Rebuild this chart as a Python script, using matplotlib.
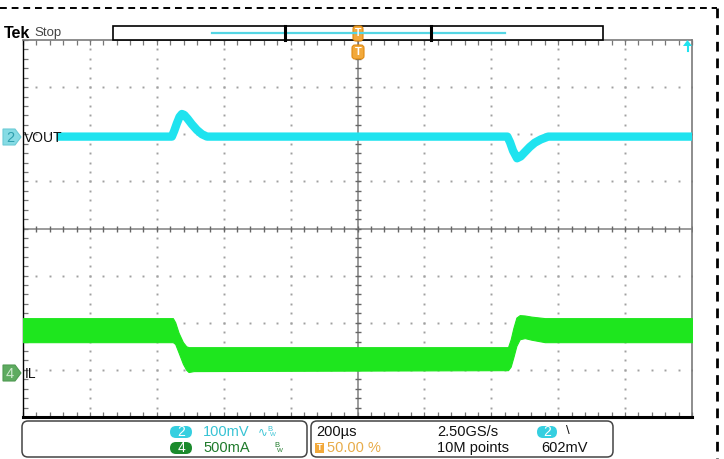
import matplotlib
matplotlib.use('Agg')
import matplotlib.pyplot as plt
from matplotlib.patches import FancyBboxPatch, Rectangle, Polygon
from matplotlib import font_manager
import numpy as np

W, H = 724, 459

# ---------------- data ----------------
time_div_us = 200          # 200 us/div
vout_scale_mv = 100        # CH2 100 mV/div
il_scale_ma = 500          # CH4 500 mA/div
vout_pos_div = 1.95        # CH2 marker position (div above centre)
il_pos_div = -3.07         # CH4 marker position (div below centre)

vout_t = [-900, -555, -548, -540, -532, -525, -518, -508, -495, -480, -465, -450,
          448, 456, 465, 477, 488, 500, 515, 530, 548, 570, 1000]
vout_mv = [0, 0, 12, 28, 42, 48, 46, 38, 26, 14, 5, 0,
           0, -12, -30, -46, -42, -33, -22, -13, -6, 0, 0]

il_t = [-1000, -552, -545, -535, -522, -512, -505, -490,
        450, 458, 466, 475, 485, 500, 520, 560, 1000]
il_hi = [584, 584, 540, 430, 330, 285, 276, 276,
         276, 360, 480, 590, 616, 612, 600, 584, 584]
il_lo = [329, 329, 310, 220, 100, 35, 12, 22,
         32, 70, 170, 290, 360, 372, 355, 329, 329]

ch_labels = ["VOUT", "IL"]
bottom_left = [("2", "100mV"), ("4", "500mA")]
timebase = "200µs"
trig_pos = "50.00 %"
rate = "2.50GS/s"
points = "10M points"
trig_level = "602mV"

# ---------------- style ----------------
names = {f.name for f in font_manager.fontManager.ttflist}
narrow = 'Liberation Sans Narrow' if 'Liberation Sans Narrow' in names else 'Liberation Sans'
FAM = [narrow, 'DejaVu Sans']
plt.rcParams['font.family'] = FAM

CYAN = '#1fe3ef'
GREEN = '#1ee61e'
GRID = '#a0a0a0'

fig = plt.figure(figsize=(W / 100, H / 100), dpi=100)
fig.patch.set_facecolor('white')

ax = fig.add_axes([23 / W, 1 - 417 / H, 669 / W, 377 / H])
ax.set_xlim(-5 * time_div_us, 5 * time_div_us)
ax.set_ylim(-4, 4)
ax.set_xticks([])
ax.set_yticks([])
ax.set_xticks(np.arange(-5 * time_div_us, 5 * time_div_us + 1, time_div_us / 5), minor=True)
ax.set_yticks(np.arange(-4, 4.01, 0.2), minor=True)
ax.tick_params(which='minor', direction='in', length=3.5, width=0.9, color='#777777',
               top=True, right=True, labelbottom=False, labelleft=False)
for s in ['top', 'right']:
    ax.spines[s].set_color('#7a7a7a')
    ax.spines[s].set_linewidth(1.2)
ax.spines['left'].set_color('black')
ax.spines['left'].set_linewidth(1.0)
ax.spines['bottom'].set_color('black')
ax.spines['bottom'].set_linewidth(2.2)

# graticule dots
ys = np.arange(-4, 4.01, 0.2)
xs = np.arange(-5 * time_div_us, 5 * time_div_us + 1, time_div_us / 5)
for k in [-4, -3, -2, -1, 1, 2, 3, 4]:
    ax.plot([k * time_div_us] * len(ys), ys, ls='none', marker='s', ms=1.4,
            mec='none', mfc=GRID, zorder=1)
for k in [-3, -2, -1, 1, 2, 3]:
    ax.plot(xs, [k] * len(xs), ls='none', marker='s', ms=1.4,
            mec='none', mfc=GRID, zorder=1)
# centre crosshair
ax.axhline(0, color='#8a8a8a', lw=1.2, zorder=1)
ax.axvline(0, color='#8a8a8a', lw=1.2, zorder=1)
ax.plot(xs, [0] * len(xs), ls='none', marker='|', ms=5, mew=1, color='#666666', zorder=1)
ax.plot([0] * len(ys), ys, ls='none', marker='_', ms=5, mew=1, color='#666666', zorder=1)

# channel traces on their own scales
axv = ax.twinx()
axv.set_ylim((-4 - vout_pos_div) * vout_scale_mv, (4 - vout_pos_div) * vout_scale_mv)
axv.axis('off')
axv.plot(vout_t, vout_mv, color=CYAN, lw=6.0, solid_joinstyle='round',
         solid_capstyle='butt')

axi = ax.twinx()
axi.set_ylim((-4 - il_pos_div) * il_scale_ma, (4 - il_pos_div) * il_scale_ma)
axi.axis('off')
axi.fill_between(il_t, il_lo, il_hi, color=GREEN, lw=0.8, edgecolor=GREEN)

# ---------------- decorations in pixel space ----------------
ov = fig.add_axes([0, 0, 1, 1])
ov.set_xlim(0, W)
ov.set_ylim(H, 0)
ov.axis('off')

# outer dashed border
ov.plot([0, 717], [8, 8], color='black', lw=1.4, ls=(0, (3.5, 2.5)))
ov.plot([717, 717], [8, H], color='black', lw=2.0, ls=(0, (3.5, 2.5)))

# Tek Stop
ov.text(4, 33, "Tek", fontsize=11.5, fontweight='bold', va='center', ha='left',
        family=['Liberation Sans', 'DejaVu Sans'], color='black')
ov.text(34, 33, "Stop", fontsize=9.5, va='center', ha='left', color='#444444')

# record bar
ov.add_patch(Rectangle((113, 26), 490, 14, fc='white', ec='black', lw=1.2))
ov.plot([212, 505], [32.5, 32.5], color='#55d6e4', lw=1.6)
for xd in (285, 431):
    ov.plot([xd, xd], [26, 40], color='black', lw=2.2)

# trigger markers
ov.add_patch(FancyBboxPatch((353, 26), 10, 15, boxstyle='round,pad=0,rounding_size=3',
                            fc='#f2a93b', ec='#e08a10', lw=0.8))
ov.text(358, 33.5, "T", fontsize=7.5, color='white', ha='center', va='center', fontweight='bold')
ov.add_patch(FancyBboxPatch((352, 45), 12, 14, boxstyle='round,pad=0,rounding_size=3',
                            fc='#f2a93b', ec='#e08a10', lw=0.8))
ov.text(358, 52, "T", fontsize=8, color='white', ha='center', va='center', fontweight='bold')

# top-right level arrow
ov.add_patch(Polygon([[683, 46], [692, 46], [687.5, 40]], closed=True, fc=CYAN, ec='none'))
ov.plot([687.5, 687.5], [45, 51], color=CYAN, lw=1.5)

# channel markers at left
ov.add_patch(Polygon([[3, 129], [15, 129], [21, 137], [15, 145], [3, 145]], closed=True,
                     fc='#86dbe4', ec='#6ccbd6', lw=0.8))
ov.text(10, 137.5, "2", fontsize=10.5, color='#2f9fae', ha='center', va='center')
ov.text(24, 137.5, ch_labels[0], fontsize=10, color='#111111', ha='left', va='center')

ov.add_patch(Polygon([[3, 365], [15, 365], [21, 373], [15, 381], [3, 381]], closed=True,
                     fc='#5eab60', ec='#4f9a52', lw=0.8))
ov.text(10, 373.5, "4", fontsize=10.5, color='#cfe9cf', ha='center', va='center')
ov.text(25, 373.5, ch_labels[1], fontsize=10, color='#111111', ha='left', va='center')

# bottom info boxes
ov.add_patch(FancyBboxPatch((22, 421), 285, 36, boxstyle='round,pad=0,rounding_size=6',
                            fc='white', ec='#444444', lw=1.1))
ov.add_patch(FancyBboxPatch((311, 421), 302, 36, boxstyle='round,pad=0,rounding_size=6',
                            fc='white', ec='#444444', lw=1.1))

row1, row2 = 432, 448
ov.add_patch(FancyBboxPatch((170, row1 - 6), 22, 12, boxstyle='round,pad=0,rounding_size=6',
                            fc='#35cfe0', ec='none'))
ov.text(181, row1, bottom_left[0][0], fontsize=10, color='white', ha='center', va='center')
ov.add_patch(FancyBboxPatch((170, row2 - 6), 22, 12, boxstyle='round,pad=0,rounding_size=6',
                            fc='#1b8a2c', ec='none'))
ov.text(181, row2, bottom_left[1][0], fontsize=10, color='white', ha='center', va='center')
ov.text(203, row1, bottom_left[0][1], fontsize=10.5, color='#37c3d4', ha='left', va='center')
ov.text(203, row2, bottom_left[1][1], fontsize=10.5, color='#1f7a2b', ha='left', va='center')
ov.text(258, row1, "∿", fontsize=8.5, color='#37c3d4', ha='left', va='center',
        family=['DejaVu Sans'])
ov.text(267, row1 - 2.5, "B", fontsize=5.5, color='#37c3d4', ha='left', va='center')
ov.text(270, row1 + 2.5, "W", fontsize=4.5, color='#37c3d4', ha='left', va='center')
ov.text(274, row2 - 2.5, "B", fontsize=5.5, color='#1f7a2b', ha='left', va='center')
ov.text(277, row2 + 2.5, "W", fontsize=4.5, color='#1f7a2b', ha='left', va='center')

ov.text(316, row1, timebase, fontsize=10.5, color='#111111', ha='left', va='center')
ov.add_patch(Rectangle((315, row2 - 5), 9, 10, fc='#f2a93b', ec='none'))
ov.text(319.5, row2, "T", fontsize=6.5, color='white', ha='center', va='center', fontweight='bold')
ov.text(327, row2, trig_pos, fontsize=10.5, color='#e8ac4a', ha='left', va='center')
ov.text(437, row1, rate, fontsize=10.5, color='#111111', ha='left', va='center')
ov.text(437, row2, points, fontsize=10.5, color='#111111', ha='left', va='center')
ov.add_patch(FancyBboxPatch((537, row1 - 6), 20, 12, boxstyle='round,pad=0,rounding_size=6',
                            fc='#35cfe0', ec='none'))
ov.text(547, row1, "2", fontsize=10, color='white', ha='center', va='center')
ov.text(566, row1 - 1, "\\", fontsize=9.5, color='#111111', ha='left', va='center')
ov.text(541, row2, trig_level, fontsize=10.5, color='#111111', ha='left', va='center')

fig.savefig('out.png', dpi=100, facecolor='white')
